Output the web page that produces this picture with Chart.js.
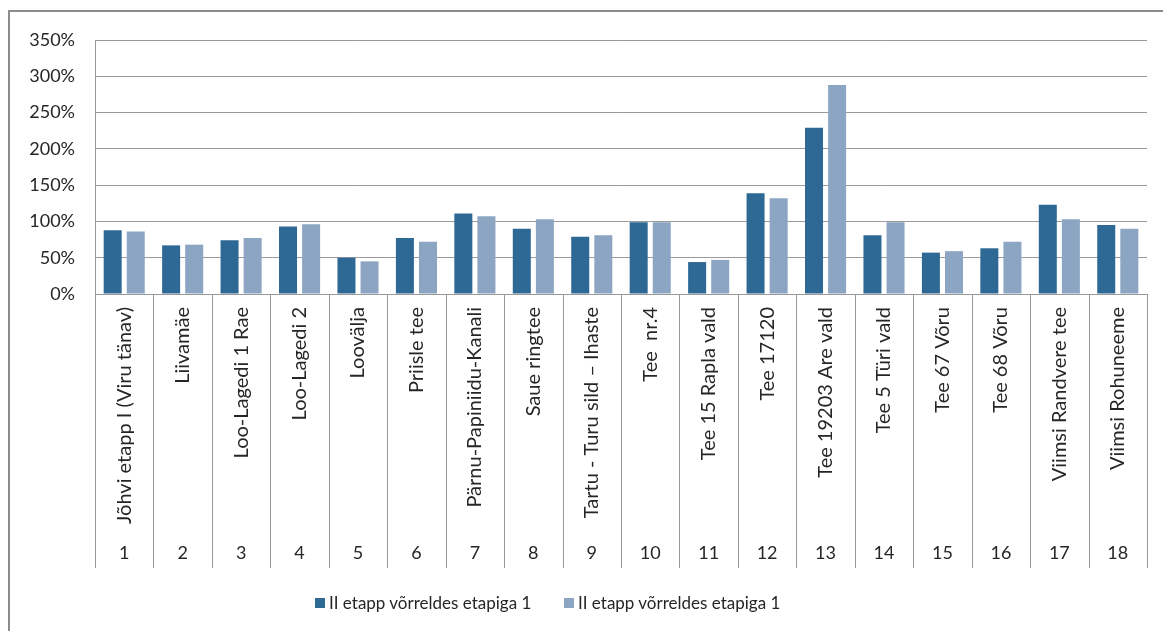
<!DOCTYPE html>
<html>
<head>
<meta charset="utf-8">
<script src="https://cdn.jsdelivr.net/npm/chart.js@4.4.1/dist/chart.umd.min.js"></script>
<style>
    html, body { margin: 0; padding: 0; background: #fff; overflow: hidden; }
    #wrap { position: relative; width: 1163px; height: 631px; }
    #frame {
        position: absolute; left: 8px; top: 10px; width: 1200px; height: 700px;
        border-left: 2px solid #8c8c8c; border-top: 2px solid #8c8c8c;
    }
    #chart_stage { position: absolute; left: 0; top: 0; }
    #legend {
        position: absolute; left: 0; top: 593px; height: 20px;
        font-family: Lato, "Liberation Sans", sans-serif; font-size: 17px; color: #262626;
    }
    .legend-item { position: absolute; top: 0; white-space: nowrap; line-height: 20px; }
    .legend-box { position: absolute; left: 0; top: 5px; width: 10px; height: 10px; }
    .legend-text { position: absolute; left: 14px; top: 0; }
</style>
</head>
<body>
<div id="wrap">
    <div id="frame"></div>
    <canvas id="chart_stage" width="1163" height="631"></canvas>
    <div id="legend"></div>
</div>
<script>
// Objektide nimed ja numbrid
const objectNames = [
    'Jõhvi etapp I (Viru tänav)', 'Liivamäe', 'Loo-Lagedi 1 Rae', 'Loo-Lagedi 2', 'Loovälja',
    'Priisle tee', 'Pärnu-Papiniidu-Kanali', 'Saue ringtee', 'Tartu - Turu sild – Ihaste',
    'Tee  nr.4', 'Tee 15 Rapla vald', 'Tee 17120', 'Tee 19203 Are vald', 'Tee 5 Türi vald',
    'Tee 67 Võru', 'Tee 68 Võru', 'Viimsi Randvere tee', 'Viimsi Rohuneeme'
];
const objectNumbers = ['1', '2', '3', '4', '5', '6', '7', '8', '9', '10', '11', '12', '13', '14', '15', '16', '17', '18'];

// Väärtused protsentides
const seriesDark = [88, 67, 74, 93, 50, 77, 111, 90, 79, 99, 44, 139, 229, 81, 57, 63, 123, 95];
const seriesLight = [86, 68, 77, 96, 45, 72, 107, 103, 81, 99, 47, 132, 288, 99, 59, 72, 103, 90];
const seriesLabels = ['II etapp võrreldes etapiga 1', 'II etapp võrreldes etapiga 1'];

const yMax = 350;
const yStep = 50;

document.addEventListener('DOMContentLoaded', function() {
    const ctx = document.getElementById('chart_stage').getContext('2d');
    const textColor = '#262626';
    const lineColor = '#9a9a9a';
    const fontFamily = 'Lato, "Liberation Sans", sans-serif';

    // Vertikaalsed eraldusjooned kategooriate vahel (mõlemal teljetasemel)
    const separatorPlugin = {
        id: 'separators',
        afterDraw(chart) {
            const xs = chart.scales.x;
            const x2 = chart.scales.x2;
            const c = chart.ctx;
            c.save();
            c.strokeStyle = lineColor;
            c.lineWidth = 1;
            for (let i = 0; i <= objectNames.length; i++) {
                const px = Math.round(xs.getPixelForValue(i - 0.5)) + 0.5;
                c.beginPath();
                c.moveTo(px, xs.top);
                c.lineTo(px, x2.bottom);
                c.stroke();
            }
            c.restore();
        }
    };

    const chart = new Chart(ctx, {
        type: 'bar',
        data: {
            labels: objectNames,
            datasets: [{
                label: seriesLabels[0],
                data: seriesDark,
                backgroundColor: '#2e6894',
                categoryPercentage: 0.79,
                barPercentage: 0.78
            }, {
                label: seriesLabels[1],
                data: seriesLight,
                backgroundColor: '#8ba5c2',
                categoryPercentage: 0.79,
                barPercentage: 0.78
            }]
        },
        options: {
            responsive: false,
            animation: false,
            layout: {
                padding: { top: 40, right: 16, bottom: 63, left: 0 }
            },
            plugins: {
                legend: { display: false },
                tooltip: { enabled: false }
            },
            scales: {
                x: {
                    type: 'category',
                    position: 'bottom',
                    weight: 0,
                    grid: { display: false, drawTicks: false },
                    border: { display: true, color: lineColor },
                    ticks: {
                        autoSkip: false,
                        minRotation: 90,
                        maxRotation: 90,
                        padding: 13,
                        color: textColor,
                        font: { family: fontFamily, size: 20 }
                    },
                    afterFit(scale) {
                        scale.height = 241;
                        scale.paddingLeft = 0;
                        scale.paddingRight = 0;
                    }
                },
                x2: {
                    type: 'category',
                    position: 'bottom',
                    weight: 1,
                    labels: objectNumbers,
                    grid: { display: false, drawTicks: false },
                    border: { display: false },
                    ticks: {
                        autoSkip: false,
                        maxRotation: 0,
                        padding: 7,
                        color: textColor,
                        font: { family: fontFamily, size: 18 }
                    },
                    afterFit(scale) {
                        scale.height = 33;
                        scale.paddingLeft = 0;
                        scale.paddingRight = 0;
                    }
                },
                y: {
                    min: 0,
                    max: yMax,
                    grid: { color: lineColor, drawTicks: false },
                    border: { display: true, color: lineColor },
                    ticks: {
                        stepSize: yStep,
                        padding: 20,
                        color: textColor,
                        font: { family: fontFamily, size: 18 },
                        callback: v => v + '%'
                    },
                    afterFit(scale) {
                        scale.width = 95;
                    }
                }
            }
        },
        plugins: [separatorPlugin]
    });

    // Legend allpool
    const legend = document.getElementById('legend');
    const legendLeft = [315, 564];
    chart.data.datasets.forEach((ds, i) => {
        const item = document.createElement('div');
        item.className = 'legend-item';
        item.style.left = legendLeft[i] + 'px';
        item.innerHTML = '<span class="legend-box" style="background:' + ds.backgroundColor + '"></span>' +
            '<span class="legend-text">' + ds.label + '</span>';
        legend.appendChild(item);
    });
});
</script>
</body>
</html>
